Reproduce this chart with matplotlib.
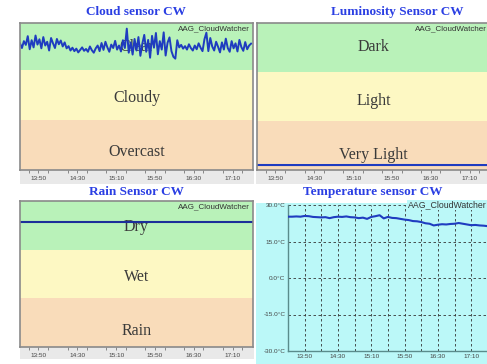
import matplotlib
matplotlib.use("Agg")
import matplotlib.pyplot as plt
from matplotlib.patches import Rectangle
import numpy as np

# sensor readings, one dashboard of four panels
tick_labels = ["13:50", "14:30", "15:10", "15:50", "16:30", "17:10"]

# cloud sensor: sky minus ambient temperature, one sample every 2 minutes from 13:31
cloud_start = "13:31"
cloud_step = 2
cloud_values = [
    -35.5, -34.0, -36.2, -35.0, -37.8, -33.6, -36.5, -34.2, -38.0, -35.1, -36.8,
    -33.9, -37.5, -34.8, -36.0, -33.2, -37.2, -35.5, -34.0, -36.9, -35.2,
    -36.4, -34.5, -35.8, -33.9, -34.6, -33.2, -34.1, -33.0, -33.8, -32.6,
    -33.4, -34.2, -33.1, -33.7, -32.8, -34.5, -33.3, -32.5, -33.9, -34.8,
    -33.0, -35.6, -33.4, -36.0, -34.2, -32.8, -35.1, -34.0, -36.3, -33.5,
    -34.8, -32.9, -36.5,
    -34.0, -40.2, -32.5, -35.8, -31.9, -36.9, -33.2, -37.5, -31.5, -35.4,
    -38.2, -32.8, -36.6, -30.9, -37.9, -34.1, -38.8, -32.0, -36.2, -33.5,
    -39.0, -31.6, -35.7, -37.4, -33.0, -31.2,
    -30.6, -36.5, -34.2, -35.0, -33.8, -34.6, -33.5, -35.2, -34.0, -33.2,
    -34.8, -33.6, -35.5, -34.1, -33.0,
    -36.8, -38.9, -33.0, -37.2, -34.5,
    -33.2, -36.0, -34.4, -32.6, -35.8, -33.5, -37.0, -34.0, -32.8, -36.2,
    -33.9, -35.5, -32.9, -36.6, -34.3, -33.1, -35.9, -33.6, -34.8, -35.4,
]
cloud_bands = [(-42, -27, "Clear"), (-27, -11, "Cloudy"), (-11, 5, "Overcast")]

# luminosity sensor (high = dark)
lum_times = ["13:30", "14:30", "15:30", "16:30", "17:40"]
lum_values = [102, 101, 102, 102, 101]
lum_bands = [(2000, 3000, "Dark"), (1000, 2000, "Light"), (0, 1000, "Very Light")]

# rain sensor (high = dry)
rain_times = ["13:30", "14:30", "15:30", "16:30", "17:40"]
rain_values = [2570, 2570, 2570, 2570, 2570]
rain_bands = [(2000, 3000, "Dry"), (1000, 2000, "Wet"), (0, 1000, "Rain")]

# ambient temperature, every 5 minutes from 13:30
temp_start = "13:30"
temp_step = 5
temp_values = [
    25.2, 25.2, 25.3, 25.2, 25.5, 25.4, 25.1, 25.0, 24.9, 25.0, 24.6, 25.0,
    25.2, 25.1, 25.3, 25.0, 24.9, 24.6, 24.8, 24.3, 25.1, 25.4, 25.8, 24.5,
    25.1, 24.7, 24.6, 24.3, 24.0, 23.8, 23.4, 23.3, 23.0, 22.5, 22.3, 21.6,
    21.9, 22.1, 22.0, 22.2, 22.3, 22.6, 22.3, 22.0, 21.7, 21.8, 21.6, 21.5,
    21.3,
]
temp_ticks = [30, 15, 0, -15, -30]

W, H = 487, 364
GREEN, YELLOW, PEACH = "#b9f2b9", "#fdf8c3", "#f9dcba"
CYAN = "#bbf8f8"
TITLE_BLUE = "#2b3fe3"
LINE_BLUE = "#1f3cc0"
FRAME = "#8a8a8a"
SERIF = ["Liberation Serif", "DejaVu Serif"]
SANS = ["Liberation Sans", "DejaVu Sans"]


def to_min(s):
    h, m = s.split(":")
    return int(h) * 60 + int(m)


def px_axes(fig, x0, y0, x1, y1):
    return fig.add_axes([x0 / W, 1 - y1 / H, (x1 - x0) / W, (y1 - y0) / H])


def px_rect(fig, x0, y0, x1, y1, color):
    fig.add_artist(Rectangle((x0 / W, 1 - y1 / H), (x1 - x0) / W, (y1 - y0) / H,
                             transform=fig.transFigure, color=color, lw=0, zorder=-1))


def px_title(fig, x, y, text):
    fig.text(x / W, 1 - y / H, text, ha="center", va="center", color=TITLE_BLUE,
             fontsize=9.5, fontweight="bold", family=SERIF)


def time_axis(ax, t0, t1):
    ax.set_xlim(to_min(t0), to_min(t1))
    ax.set_xticks([to_min(t) for t in tick_labels])
    ax.set_xticklabels(tick_labels)
    ax.set_xticks(np.arange(to_min("13:40"), to_min(t1), 20), minor=True)
    ax.tick_params(axis="x", which="both", length=2, width=0.6, color="#777777",
                   labelsize=4.6, labelcolor="#444444", pad=2)
    for lab in ax.get_xticklabels():
        lab.set_family(SANS)


def band_panel(ax, bands, label_ys, colors):
    for (lo, hi, name), ly, c in zip(bands, label_ys, colors):
        ax.axhspan(lo, hi, color=c, lw=0, zorder=0)
        ax.text(0.5, ly, name, transform=ax.transAxes, ha="center", va="center",
                fontsize=11.5, color="#3a3a3a", family=SERIF, zorder=1)
    ax.set_yticks([])
    for sp in ax.spines.values():
        sp.set_color(FRAME)
        sp.set_linewidth(1.2)
    ax.text(0.985, 0.985, "AAG_CloudWatcher", transform=ax.transAxes, ha="right",
            va="top", fontsize=5.8, color="#333333", family=SANS, zorder=3)


fig = plt.figure(figsize=(W / 100, H / 100), dpi=100)

# cloud sensor
px_title(fig, 136, 12, "Cloud sensor CW")
px_rect(fig, 20, 170, 254, 184, "#e9e9e9")
ax = px_axes(fig, 20, 23, 253, 170)
band_panel(ax, cloud_bands, [0.835, 0.49, 0.125], [GREEN, YELLOW, PEACH])
cloud_t = to_min(cloud_start) + cloud_step * np.arange(len(cloud_values))
ax.plot(cloud_t, cloud_values, color=LINE_BLUE, lw=1.4, zorder=2)
ax.set_ylim(5, -42)
time_axis(ax, "13:31", "17:31")

# luminosity sensor
px_title(fig, 397, 12, "Luminosity Sensor CW")
px_rect(fig, 256, 170, 487, 184, "#e9e9e9")
ax = px_axes(fig, 257, 23, 490, 170)
band_panel(ax, lum_bands, [0.835, 0.47, 0.1], [GREEN, YELLOW, PEACH])
ax.plot([to_min(t) for t in lum_times], lum_values, color=LINE_BLUE, lw=1.5, zorder=2)
ax.set_ylim(0, 3000)
time_axis(ax, "13:31", "17:31")

# rain sensor
px_title(fig, 136, 192, "Rain Sensor CW")
px_rect(fig, 20, 347, 254, 359, "#e9e9e9")
ax = px_axes(fig, 20, 201, 253, 347)
band_panel(ax, rain_bands, [0.82, 0.48, 0.11], [GREEN, YELLOW, PEACH])
ax.plot([to_min(t) for t in rain_times], rain_values, color="#1c2e9a", lw=1.5, zorder=2)
ax.set_ylim(0, 3000)
time_axis(ax, "13:31", "17:31")

# temperature sensor
px_title(fig, 373, 192, "Temperature sensor CW")
px_rect(fig, 256, 203, 487, 364, CYAN)
ax = px_axes(fig, 288, 205, 492, 351)
ax.set_facecolor(CYAN)
temp_t = to_min(temp_start) + temp_step * np.arange(len(temp_values))
ax.plot(temp_t, temp_values, color=LINE_BLUE, lw=1.5, zorder=3)
ax.set_ylim(-30, 30)
ax.set_yticks(temp_ticks)
ax.set_yticklabels([f"{v:.1f}°C" for v in temp_ticks])
ax.set_xlim(to_min("13:30"), to_min("17:35"))
ax.set_xticks([to_min(t) for t in tick_labels])
ax.set_xticklabels(tick_labels)
ax.set_xticks(np.arange(to_min("13:50"), to_min("17:35"), 20), minor=True)
ax.grid(True, which="both", axis="x", color="#333333", lw=0.6, ls=(0, (3, 3)))
ax.grid(True, which="major", axis="y", color="#333333", lw=0.6, ls=(0, (3, 3)))
ax.tick_params(which="both", length=0, labelsize=4.6, labelcolor="#444444", pad=2)
for lab in ax.get_xticklabels() + ax.get_yticklabels():
    lab.set_family(SANS)
for side in ("top", "right"):
    ax.spines[side].set_visible(False)
for side in ("left", "bottom"):
    ax.spines[side].set_color("#5a8c8c")
    ax.spines[side].set_linewidth(1.0)
ax.text(0.975, 1.0, "AAG_CloudWatcher", transform=ax.transAxes, ha="right",
        va="center", fontsize=6.3, color="#333333", family=SANS, zorder=4,
        bbox=dict(facecolor=CYAN, edgecolor="none", pad=0.5))

fig.savefig("out.png", dpi=100)
